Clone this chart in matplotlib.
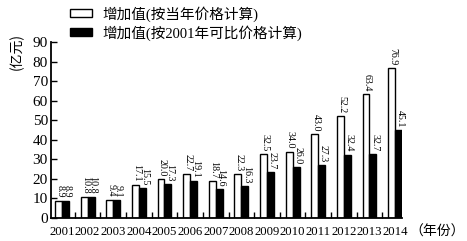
import matplotlib
matplotlib.use("Agg")
import matplotlib.pyplot as plt
import numpy as np

years = ["2001", "2002", "2003", "2004", "2005", "2006", "2007", "2008",
         "2009", "2010", "2011", "2012", "2013", "2014"]
current_price = [8.9, 10.8, 9.4, 17.1, 20.0, 22.7, 18.7, 22.3, 32.5, 34.0, 43.0, 52.2, 63.4, 76.9]
const_2001_price = [8.9, 10.8, 9.1, 15.5, 17.3, 19.1, 14.6, 16.3, 23.7, 26.0, 27.3, 32.4, 32.7, 45.1]
series_names = ["增加值(按当年价格计算)", "增加值(按2001年可比价格计算)"]
yticks = [0, 10, 20, 30, 40, 50, 60, 70, 80, 90]

FAM = ["Liberation Serif", "Noto Sans CJK SC", "DejaVu Sans"]
plt.rcParams['font.family'] = FAM

W, H = 467, 241
fig = plt.figure(figsize=(W / 100, H / 100), dpi=100)
left, right = 50.7 / W, 402 / W
bottom, top = 1 - 218 / H, 1 - 42 / H
ax = fig.add_axes([left, bottom, right - left, top - bottom])

x = np.arange(len(years))
bw = 0.27
b1 = ax.bar(x - bw / 2, current_price, bw, color="white", edgecolor="black", linewidth=1.0,
            label=series_names[0])
b2 = ax.bar(x + bw / 2, const_2001_price, bw, color="black", edgecolor="black", linewidth=1.0,
            label=series_names[1])

for xi, v in zip(x - bw / 2, current_price):
    ax.annotate(f"{v:.1f}", (xi + 0.05, v), xytext=(0, 2), textcoords="offset points",
                rotation=270, ha="center", va="bottom", fontsize=7.2, family=FAM)
for xi, v in zip(x + bw / 2, const_2001_price):
    ax.annotate(f"{v:.1f}", (xi + 0.07, v), xytext=(0, 2), textcoords="offset points",
                rotation=270, ha="center", va="bottom", fontsize=7.2, family=FAM)

ax.set_xlim(-0.44, 13.27)
ax.set_ylim(0, 90)
ax.set_yticks(yticks)
ax.set_yticklabels([str(t) for t in yticks], fontsize=11)
ax.set_xticks(x)
ax.set_xticklabels(years, fontsize=9.2)
ax.tick_params(axis="x", which="major", length=0, pad=6)
ax.set_xticks(x[:-1] + 0.5, minor=True)
ax.tick_params(axis="x", which="minor", direction="in", length=4, width=1)
ax.tick_params(axis="y", direction="in", length=4.5, width=1, pad=2)

for s in ["top", "right"]:
    ax.spines[s].set_visible(False)
for s in ["left", "bottom"]:
    ax.spines[s].set_linewidth(1.3)

fig.text(17 / W, 1 - 51 / H, "(亿元)", rotation=90, ha="center", va="center",
         fontsize=10, family=["Noto Sans CJK SC"])
fig.text(437 / W, 1 - 232 / H, "（年份）", ha="center", va="center",
         fontsize=10, family=["Noto Sans CJK SC"])

fs = 10.5
em = fs * 100 / 72
leg = fig.legend(handles=[b1, b2], labels=series_names, loc="upper left",
                 bbox_to_anchor=(70 / W, 1 - 6 / H), bbox_transform=fig.transFigure,
                 frameon=False, fontsize=fs, handlelength=22 / em, handleheight=7 / em,
                 handletextpad=10 / em, labelspacing=(18 - em) / em, borderpad=0,
                 borderaxespad=0)
for t in leg.get_texts():
    t.set_family(["Liberation Serif", "Noto Sans CJK SC"])

fig.savefig("out.png", dpi=100)
